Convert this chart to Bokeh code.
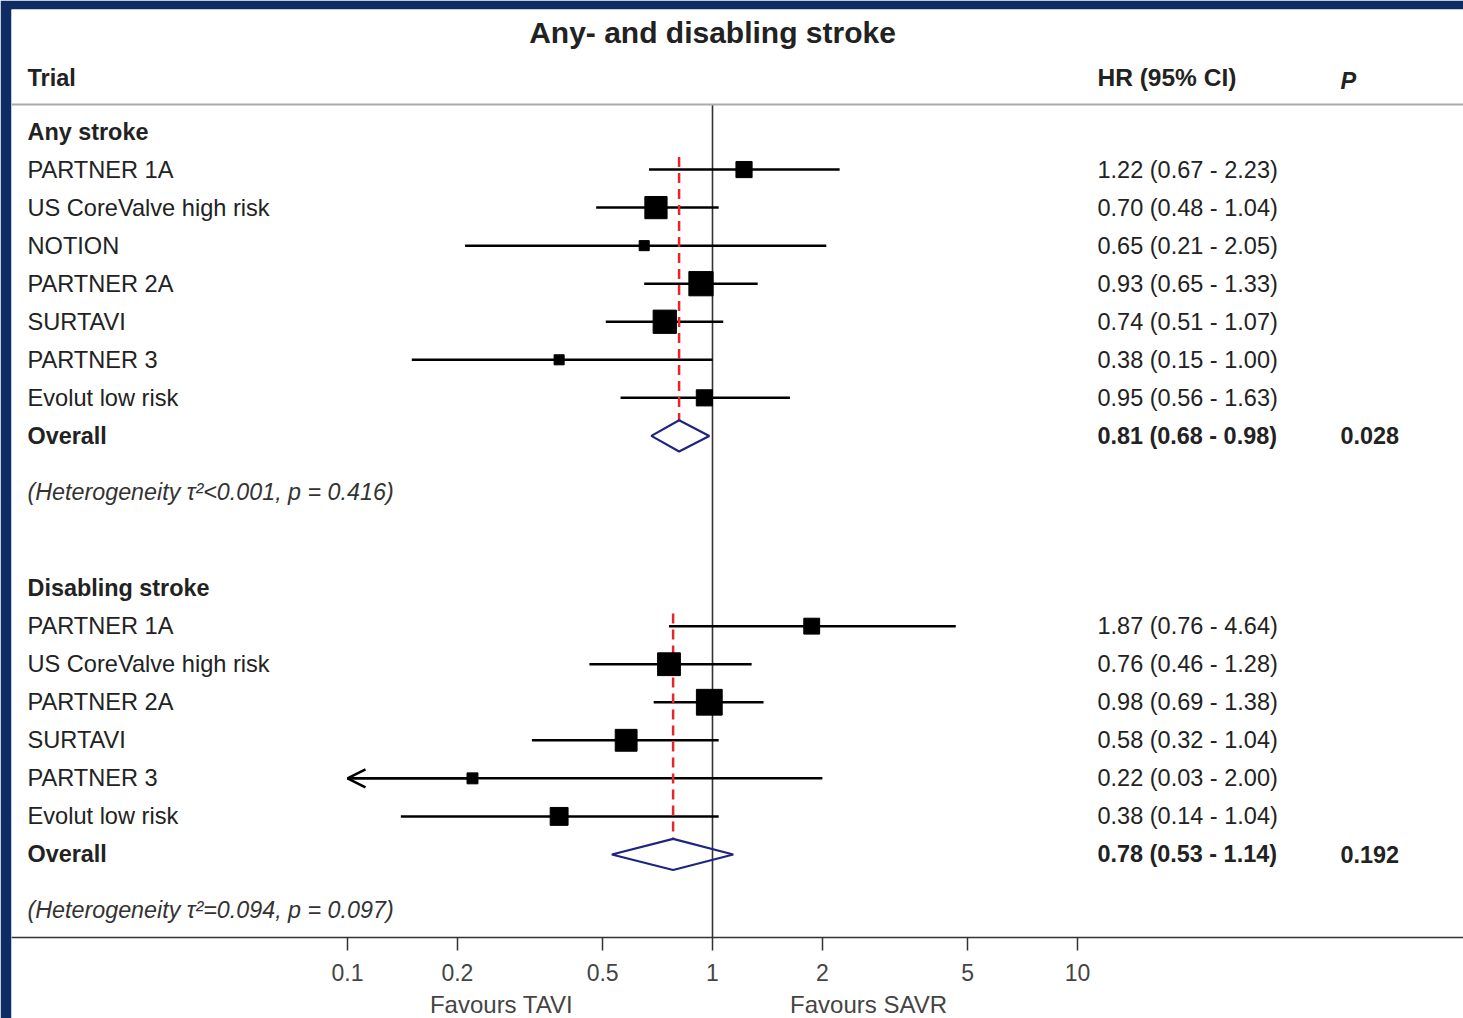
from bokeh.plotting import figure
from bokeh.models import (Range1d, FixedTicker, CustomJSTickFormatter, ColumnDataSource,
                          Span, Arrow, OpenHead)
from bokeh.core.properties import value
from bokeh.embed import file_html
from bokeh.resources import INLINE

# ---------------- data ----------------
title_text = "Any- and disabling stroke"
group_names = ["Any stroke", "Disabling stroke"]

any_trials = ["PARTNER 1A", "US CoreValve high risk", "NOTION", "PARTNER 2A",
              "SURTAVI", "PARTNER 3", "Evolut low risk"]
any_hr = [1.22, 0.70, 0.65, 0.93, 0.74, 0.38, 0.95]
any_lo = [0.67, 0.48, 0.21, 0.65, 0.51, 0.15, 0.56]
any_hi = [2.23, 1.04, 2.05, 1.33, 1.07, 1.00, 1.63]
any_weight = [11.1, 21.0, 4.3, 25.0, 23.0, 4.3, 11.1]

dis_trials = ["PARTNER 1A", "US CoreValve high risk", "PARTNER 2A",
              "SURTAVI", "PARTNER 3", "Evolut low risk"]
dis_hr = [1.87, 0.76, 0.98, 0.58, 0.22, 0.38]
dis_lo = [0.76, 0.46, 0.69, 0.32, 0.03, 0.14]
dis_hi = [4.64, 1.28, 1.38, 1.04, 2.00, 1.04]
dis_weight = [10.7, 22.1, 28.3, 20.3, 5.1, 13.6]

overall_hr = [0.81, 0.78]
overall_lo = [0.68, 0.53]
overall_hi = [0.98, 1.14]
overall_p = ["0.028", "0.192"]
heterogeneity = ["(Heterogeneity \u03c4\u00b2<0.001, p = 0.416)",
                 "(Heterogeneity \u03c4\u00b2=0.094, p = 0.097)"]

x_ticks = [0.1, 0.2, 0.5, 1, 2, 5, 10]
axis_min = 0.1

# ---------------- layout ----------------
W, H = 1463, 1018
FRAME_L, FRAME_T = 11, 9
X0_PX, DECADE_PX = 712, 365
ROW0_PX, ROW_PX = 131, 38.05
NAVY = "#0e2c63"
FONT = value("Liberation Sans")
TXT = "#222222"
BODY = "23.6px"


def xcol(px):
    return 10 ** ((px - X0_PX) / DECADE_PX)


def yrow(px):
    return (px - ROW0_PX) / ROW_PX


p = figure(width=W, height=H, x_axis_type="log",
           x_range=Range1d(xcol(FRAME_L), xcol(W)),
           y_range=Range1d(yrow(H), yrow(FRAME_T)),
           output_backend="svg", toolbar_location=None, y_axis_location=None,
           min_border_left=FRAME_L, min_border_top=FRAME_T,
           min_border_right=0, min_border_bottom=0,
           border_fill_color=NAVY, background_fill_color="white",
           outline_line_color=None)
p.grid.visible = False

ax = p.xaxis[0]
ax.fixed_location = yrow(937)
ax.ticker = FixedTicker(ticks=x_ticks, minor_ticks=[])
ax.formatter = CustomJSTickFormatter(code="return String(tick)")
ax.axis_line_color = "#333333"
ax.axis_line_width = 1.5
ax.major_tick_line_color = "#333333"
ax.major_tick_line_width = 1.5
ax.major_tick_out = 13
ax.major_tick_in = 0
ax.minor_tick_line_color = None
ax.major_label_standoff = 13
ax.major_label_text_font = "Liberation Sans"
ax.major_label_text_font_size = "23px"
ax.major_label_text_color = "#444444"

# header line
p.add_layout(Span(location=yrow(104), dimension="width", line_color="#aaaaaa", line_width=2))

# null line
p.segment(x0=[1], y0=[yrow(104)], x1=[1], y1=[yrow(937)], line_color="#333333", line_width=1.6)

groups = [
    (any_trials, any_hr, any_lo, any_hi, any_weight),
    (dis_trials, dis_hr, dis_lo, dis_hi, dis_weight),
]

label_x = xcol(27)
hr_x = xcol(1097)
p_x = xcol(1340)

row = 0
for g, (trials, hr, lo, hi, wt) in enumerate(groups):
    header_row = row
    rows = [header_row + 1 + i for i in range(len(trials))]
    overall_row = header_row + len(trials) + 1
    het_row = overall_row + 1.47

    # text
    p.text(x=[label_x], y=[header_row], text=[group_names[g]], text_font=FONT,
           text_font_size="23.4px", text_font_style="bold", text_color=TXT,
           text_baseline="middle", text_align="left")
    p.text(x=[label_x] * len(trials), y=rows, text=trials, text_font=FONT,
           text_font_size=BODY, text_color=TXT, text_baseline="middle", text_align="left")
    hr_txt = [f"{h:.2f} ({l:.2f} - {u:.2f})" for h, l, u in zip(hr, lo, hi)]
    p.text(x=[hr_x] * len(trials), y=rows, text=hr_txt, text_font=FONT,
           text_font_size="23.5px", text_color=TXT, text_baseline="middle", text_align="left")
    p.text(x=[label_x], y=[overall_row], text=["Overall"], text_font=FONT,
           text_font_size="23.4px", text_font_style="bold", text_color=TXT,
           text_baseline="middle", text_align="left")
    ov = f"{overall_hr[g]:.2f} ({overall_lo[g]:.2f} - {overall_hi[g]:.2f})"
    p.text(x=[hr_x], y=[overall_row], text=[ov], text_font=FONT,
           text_font_size="23.4px", text_font_style="bold", text_color=TXT,
           text_baseline="middle", text_align="left")
    p.text(x=[p_x], y=[overall_row], text=[overall_p[g]], text_font=FONT,
           text_font_size="23.4px", text_font_style="bold", text_color=TXT,
           text_baseline="middle", text_align="left")
    p.text(x=[label_x], y=[het_row], text=[heterogeneity[g]], text_font=FONT,
           text_font_size="23.3px", text_font_style="italic", text_color="#333333",
           text_baseline="middle", text_align="left")

    # CI lines
    lo_c = [max(v, axis_min) for v in lo]
    p.segment(x0=lo_c, y0=rows, x1=hi, y1=rows, line_color="black", line_width=2.5)
    arr = [(h, r) for h, l, r in zip(hr, lo, rows) if l < axis_min]
    if arr:
        src = ColumnDataSource(dict(xs=[a[0] for a in arr], xe=[axis_min] * len(arr),
                                    y=[a[1] for a in arr]))
        p.add_layout(Arrow(source=src, x_start="xs", x_end="xe", y_start="y", y_end="y",
                           line_color="black", line_width=2.5,
                           end=OpenHead(size=18, line_width=2.5, line_color="black")))

    # pooled estimate dashed line
    p.segment(x0=[overall_hr[g]], y0=[rows[0] - 0.33], x1=[overall_hr[g]],
              y1=[overall_row - 0.41], line_color="#e8252a", line_width=2.5, line_dash="10 6")

    # squares
    sizes = [4.85 * w ** 0.5 for w in wt]
    p.scatter(x=hr, y=rows, size=sizes, marker="square", fill_color="black",
              line_color="black")

    # diamond
    hh = 0.41
    p.patches(xs=[[overall_lo[g], overall_hr[g], overall_hi[g], overall_hr[g]]],
              ys=[[overall_row, overall_row - hh, overall_row, overall_row + hh]],
              fill_color=None, line_color="#1e2580", line_width=2.2)

    row = overall_row + 4

# headers and title
p.text(x=[1], y=[yrow(32)], text=[title_text], text_font=FONT, text_font_size="30px",
       text_font_style="bold", text_color=TXT, text_baseline="middle", text_align="center")
p.text(x=[label_x], y=[yrow(77)], text=["Trial"], text_font=FONT, text_font_size="23.5px",
       text_font_style="bold", text_color=TXT, text_baseline="middle", text_align="left")
p.text(x=[hr_x], y=[yrow(77)], text=["HR (95% CI)"], text_font=FONT, text_font_size="24.5px",
       text_font_style="bold", text_color=TXT, text_baseline="middle", text_align="left")
p.text(x=[p_x], y=[yrow(80)], text=["P"], text_font=FONT, text_font_size="23.5px",
       text_font_style="bold italic", text_color=TXT, text_baseline="middle", text_align="left")

# favours labels
p.text(x=[xcol(501), xcol(868)], y=[yrow(1004)] * 2, text=["Favours TAVI", "Favours SAVR"],
       text_font=FONT, text_font_size="24px", text_color="#444444",
       text_baseline="middle", text_align="center")

open("out.html", "w").write(file_html(p, INLINE))
